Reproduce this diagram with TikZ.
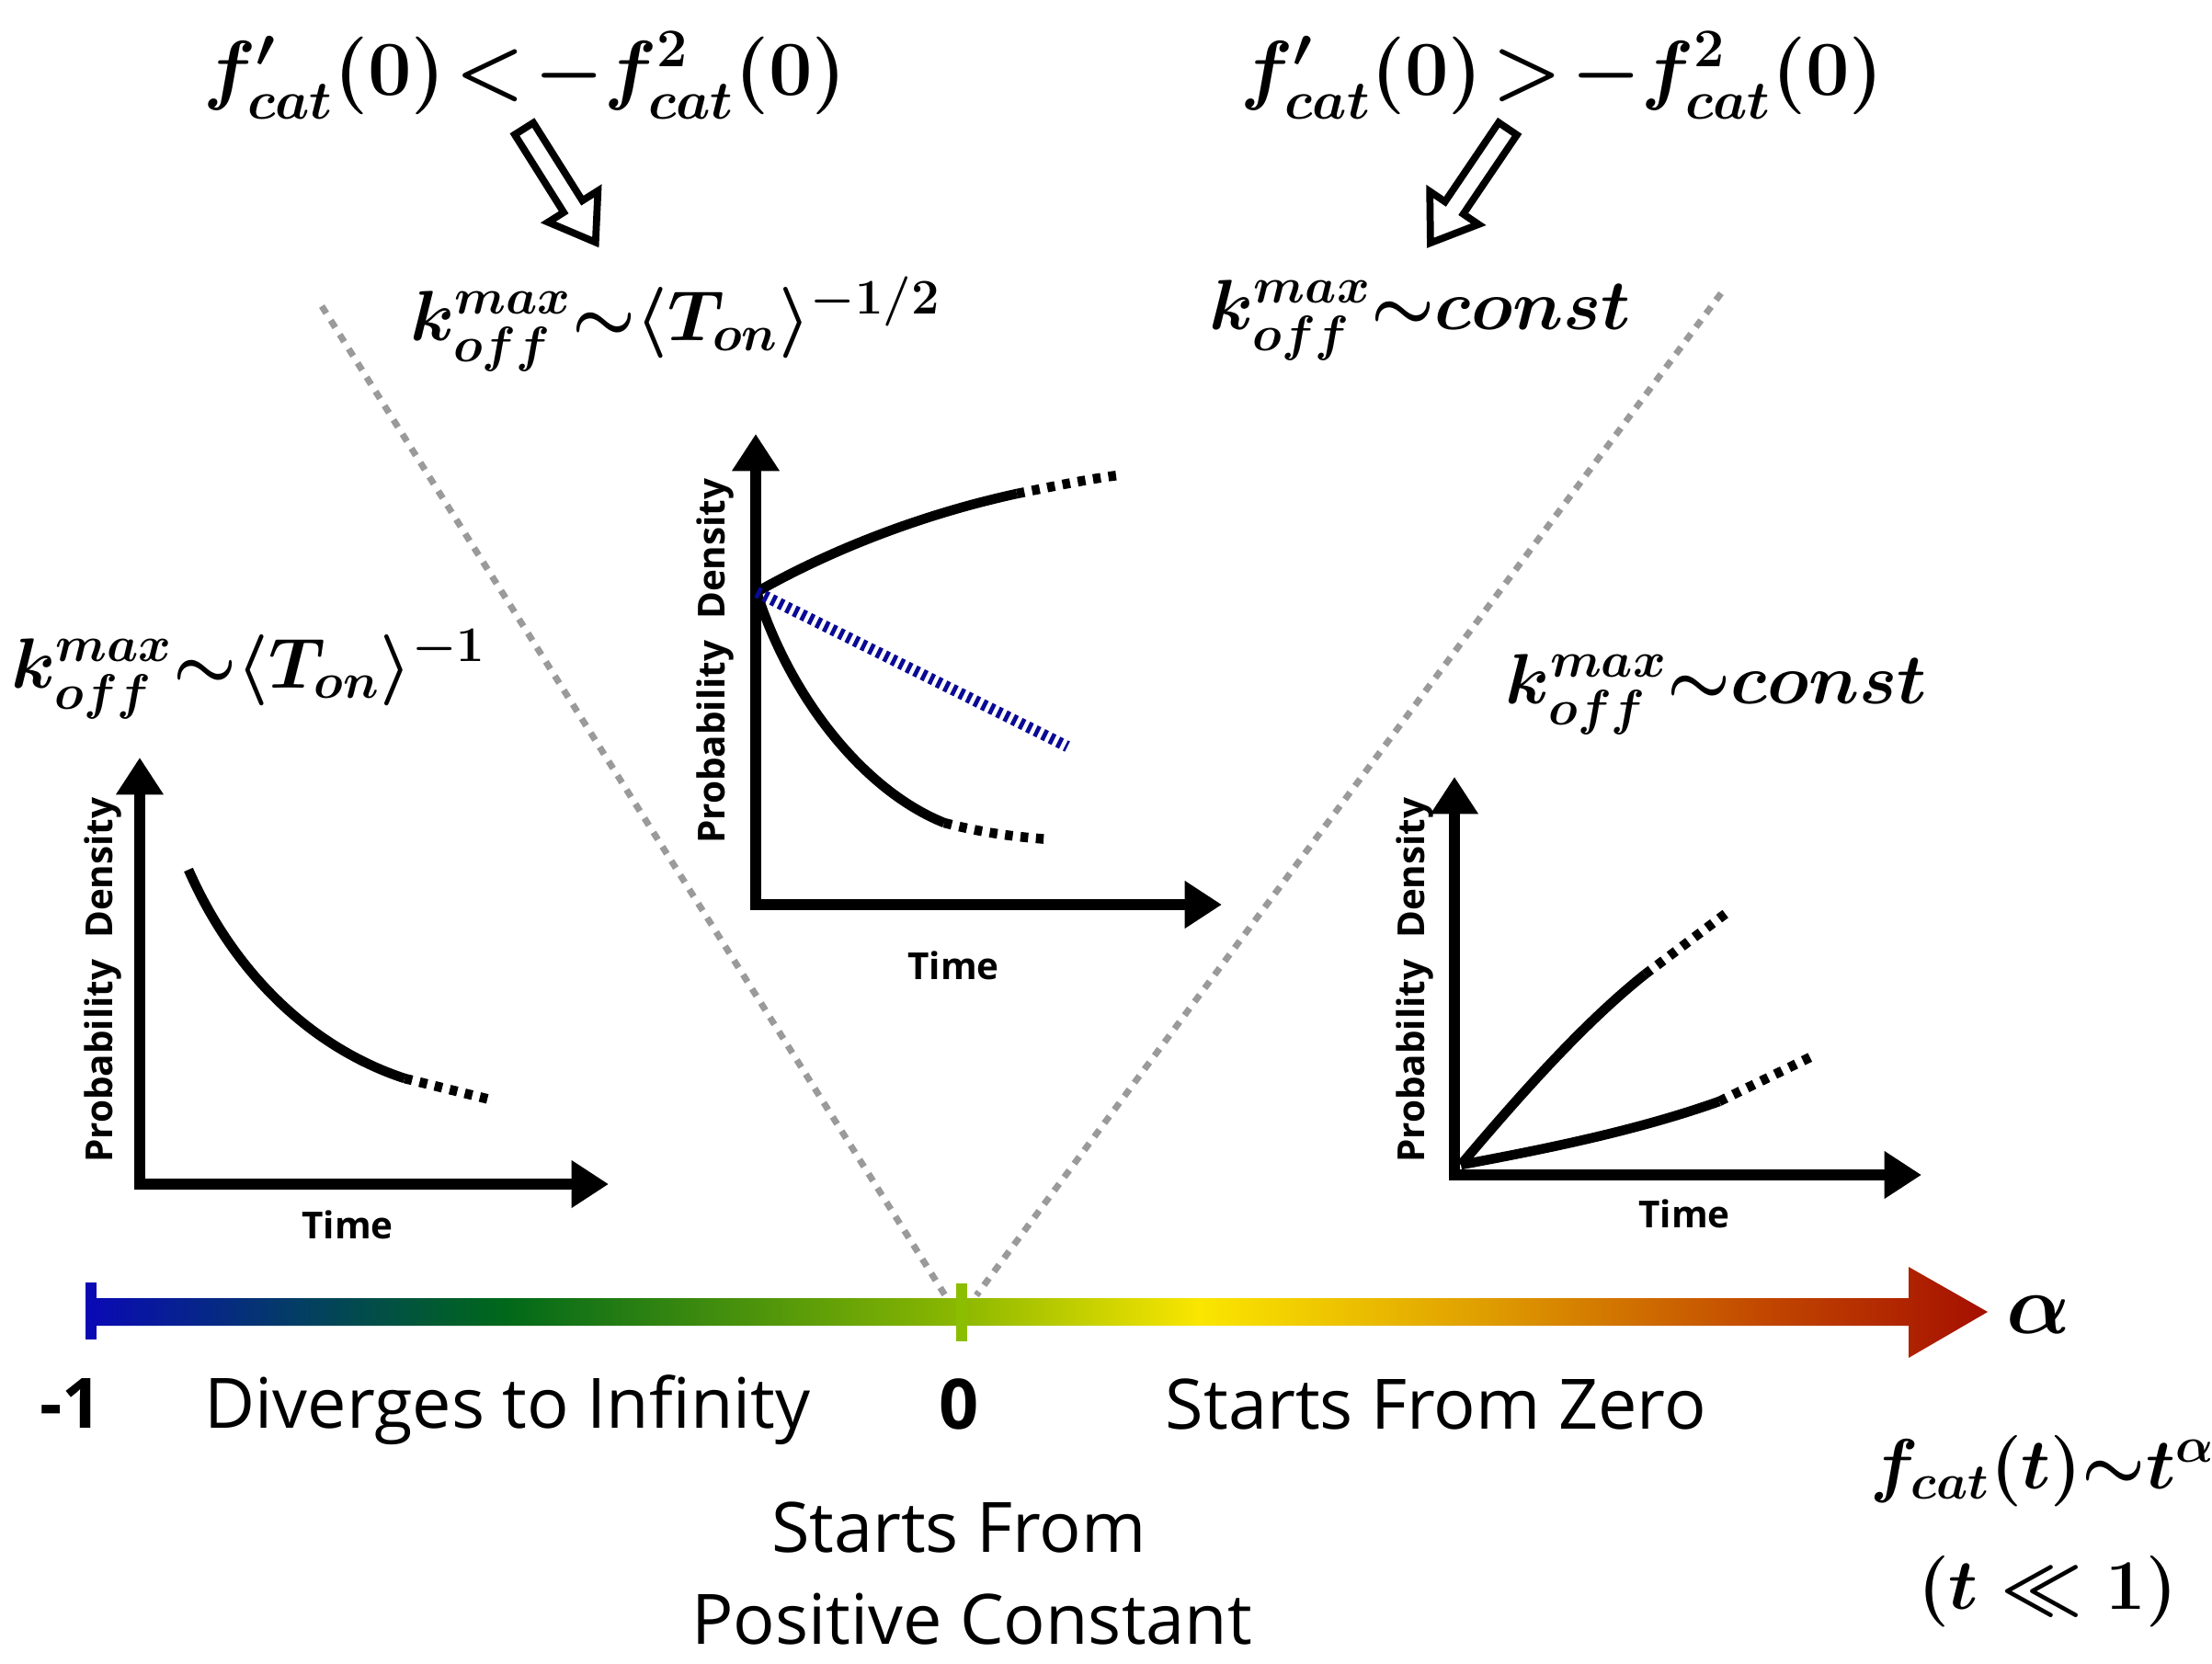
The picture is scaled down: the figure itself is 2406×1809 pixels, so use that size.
\documentclass[tikz,border=0pt]{standalone}
\usepackage{fix-cm}
\usepackage{amsmath}
\usepackage{fontspec}
\newfontfamily\osans{Open Sans}
\usetikzlibrary{arrows.meta}
\definecolor{cBlue}{HTML}{0A0AB4}
\definecolor{cTeal}{HTML}{033F62}
\definecolor{cGreen}{HTML}{00681A}
\definecolor{cLime}{HTML}{8CB800}
\definecolor{cTick}{HTML}{8CBE00}
\definecolor{cYellow}{HTML}{FAE600}
\definecolor{cOrange}{HTML}{E0A000}
\definecolor{cRust}{HTML}{C24800}
\definecolor{cRed}{HTML}{A50F00}
\definecolor{cNavy}{HTML}{0A0A96}
\definecolor{cGuide}{HTML}{9A9A9A}
\pgfdeclarehorizontalshading{alphabar}{100bp}{color(0bp)=(cBlue); color(25bp)=(cBlue); color(30.6bp)=(cTeal); color(35.86bp)=(cGreen); color(47.95bp)=(cLime); color(54.23bp)=(cYellow); color(61.48bp)=(cOrange); color(69bp)=(cRust); color(75bp)=(cRed); color(100bp)=(cRed)}
\newcommand{\tightrel}{\thickmuskip=2mu plus 1mu}
\newcommand{\bd}[1]{\textbf{#1}}
\tikzset{
  axisline/.style={line width=3.2pt, line join=miter, {Triangle[width=14pt,length=11.5pt]}-{Triangle[width=14pt,length=11.5pt]}},
  curveline/.style={line width=3pt},
  dotcont/.style={line width=3pt, dash pattern=on 2.4pt off 2.4pt},
  guide/.style={draw=cGuide, line width=2pt, dash pattern=on 2.6pt off 2.6pt},
  hollow/.style={draw=black, fill=white, line width=2.2pt, line join=miter},
  hatch/.style={draw=cNavy, line width=3.5pt, dash pattern=on 1.3pt off 1.3pt},
  plotlbl/.style={font=\osans\bfseries\fontsize{11.5}{14}\selectfont, inner sep=0pt},
  bigmath/.style={font=\fontsize{24}{28}\selectfont\boldmath, inner sep=0pt},
  kmath/.style={font=\fontsize{22}{26}\selectfont\boldmath, inner sep=0pt},
  regmath/.style={font=\fontsize{22}{26}\selectfont\boldmath, inner sep=0pt},
  sanslbl/.style={font=\osans\fontsize{21.5}{26}\selectfont, inner sep=0pt},
  sansbold/.style={font=\osans\bfseries\fontsize{21.5}{26}\selectfont, inner sep=0pt}
}
\begin{document}
\begin{tikzpicture}[x=0.01cm,y=-0.01cm]
\useasboundingbox (0,0) rectangle (2406,1809);

% guide lines
\coordinate (gL1) at (350,333);
\coordinate (gL2) at (1028,1409);
\coordinate (gR1) at (1872,319);
\coordinate (gR2) at (1062,1409);
\draw[guide] (gL1) -- (gL2);
\draw[guide] (gR1) -- (gR2);

% top conditions
\node[bigmath, anchor=base] (condL) at (571,103) {$\tightrel f'_{cat}(\bd{0})<-f^{\bd{2}}_{cat}(\bd{0})$};
\node[bigmath, anchor=base] (condR) at (1699,103) {$\tightrel f'_{cat}(\bd{0})>-f^{\bd{2}}_{cat}(\bd{0})$};

% hollow arrows
\begin{scope}[shift={(570,140)}, rotate=-57.8]
  \draw[hollow] (0,-12) -- (100,-12) -- (100,-32) -- (146,0) -- (100,32) -- (100,12) -- (0,12) -- cycle;
\end{scope}
\begin{scope}[shift={(1640,140)}, rotate=-124.1]
  \draw[hollow] (0,-12) -- (104,-12) -- (104,-32) -- (150,0) -- (104,32) -- (104,12) -- (0,12) -- cycle;
\end{scope}

% k formulas
\node[kmath, anchor=base] (kMid) at (735,370) {$k^{max}_{off}{\sim}\langle T_{on}\rangle^{-\bd{1}/\bd{2}}$};
\node[kmath, anchor=base] (kTopR) at (1545,358) {$k^{max}_{off}{\sim}const$};
\node[kmath, anchor=base west] (kLeft) at (12,748) {$k^{max}_{off}{\sim}\langle T_{on}\rangle^{-\bd{1}}$};
\node[kmath, anchor=base] (kRight) at (1867,765) {$k^{max}_{off}{\sim}const$};

% left plot
\coordinate (lO) at (152,1288);
\coordinate (lY) at (152,824);
\coordinate (lX) at (662,1288);
\draw[axisline] (lY) -- (lO) -- (lX);
\coordinate (lc0) at (205,946);
\coordinate (lc1) at (440,1173);
\coordinate (lc2) at (533,1196);
\draw[curveline] (lc0) .. controls (255,1060) and (340,1140) .. (lc1);
\draw[dotcont] (lc1) -- (lc2);
\node[plotlbl, rotate=90] (lPD) at (112,1066) {Probability\hspace{0.3em} Density};
\node[plotlbl] (lT) at (378,1332) {Time};

% middle plot
\coordinate (mO) at (822,984);
\coordinate (mY) at (822,472);
\coordinate (mX) at (1329,984);
\draw[axisline] (mY) -- (mO) -- (mX);
\coordinate (mc0) at (823,644);
\coordinate (mu1) at (1106,537);
\coordinate (mu2) at (1216,517);
\coordinate (md1) at (1027,895);
\coordinate (md2) at (1141,913);
\coordinate (mb1) at (1161,812);
\draw[curveline] (mc0) .. controls (900,600) and (1000,560) .. (mu1);
\draw[dotcont] (mu1) .. controls (1150,528) and (1185,521) .. (mu2);
\draw[curveline] (mc0) .. controls (860,760) and (940,860) .. (md1);
\draw[dotcont] (md1) .. controls (1065,905) and (1100,910) .. (md2);
\draw[hatch] (mc0) -- (mb1);
\node[plotlbl, rotate=90] (mPD) at (778,719) {Probability\hspace{0.3em} Density};
\node[plotlbl] (mT) at (1037,1050) {Time};

% right plot
\coordinate (rO) at (1582,1278);
\coordinate (rY) at (1582,845);
\coordinate (rX) at (2090,1278);
\draw[axisline] (rY) -- (rO) -- (rX);
\coordinate (rc0) at (1589,1267);
\coordinate (ru1) at (1789,1060);
\coordinate (ru2) at (1878,993);
\coordinate (rd1) at (1870,1198);
\coordinate (rd2) at (1971,1149);
\draw[curveline] (rc0) .. controls (1650,1195) and (1720,1115) .. (ru1);
\draw[dotcont] (ru1) -- (ru2);
\draw[curveline] (rc0) .. controls (1680,1250) and (1780,1230) .. (rd1);
\draw[dotcont] (rd1) -- (rd2);
\node[plotlbl, rotate=90] (rPD) at (1539,1066) {Probability\hspace{0.3em} Density};
\node[plotlbl] (rT) at (1832,1320) {Time};

% alpha bar
\shade[shading=alphabar] (99,1412) -- (2076,1412) -- (2076,1378) -- (2162,1427) -- (2076,1477) -- (2076,1442) -- (99,1442) -- cycle;
\coordinate (tA1) at (99,1395);
\coordinate (tA2) at (99,1457);
\coordinate (tB1) at (1046,1396);
\coordinate (tB2) at (1046,1459);
\draw[cBlue, line width=3.5pt] (tA1) -- (tA2);
\draw[cTick, line width=3.5pt] (tB1) -- (tB2);

\node[font=\fontsize{26}{30}\selectfont\boldmath, inner sep=0pt, anchor=base] (alpha) at (2217,1450) {$\alpha$};

% bottom labels
\node[sansbold, anchor=base] (m1) at (77,1553) {-1};
\node[sanslbl, anchor=base] (div) at (552,1553) {Diverges to Infinity};
\node[sansbold, anchor=base] (zero) at (1043,1554) {0};
\node[sanslbl, anchor=base] (szero) at (1562,1554) {Starts From Zero};
\node[sanslbl, anchor=base] (sfrom) at (1043,1688) {Starts From};
\node[sanslbl, anchor=base] (pconst) at (1057,1788) {Positive Constant};

\node[regmath, anchor=base west] (fcat) at (2034,1619) {$f_{cat}(t){\sim}t^{\alpha}$};
\node[regmath, anchor=base] (tll) at (2227,1750) {$(t\ll \bd{1})$};
\end{tikzpicture}
\end{document}
